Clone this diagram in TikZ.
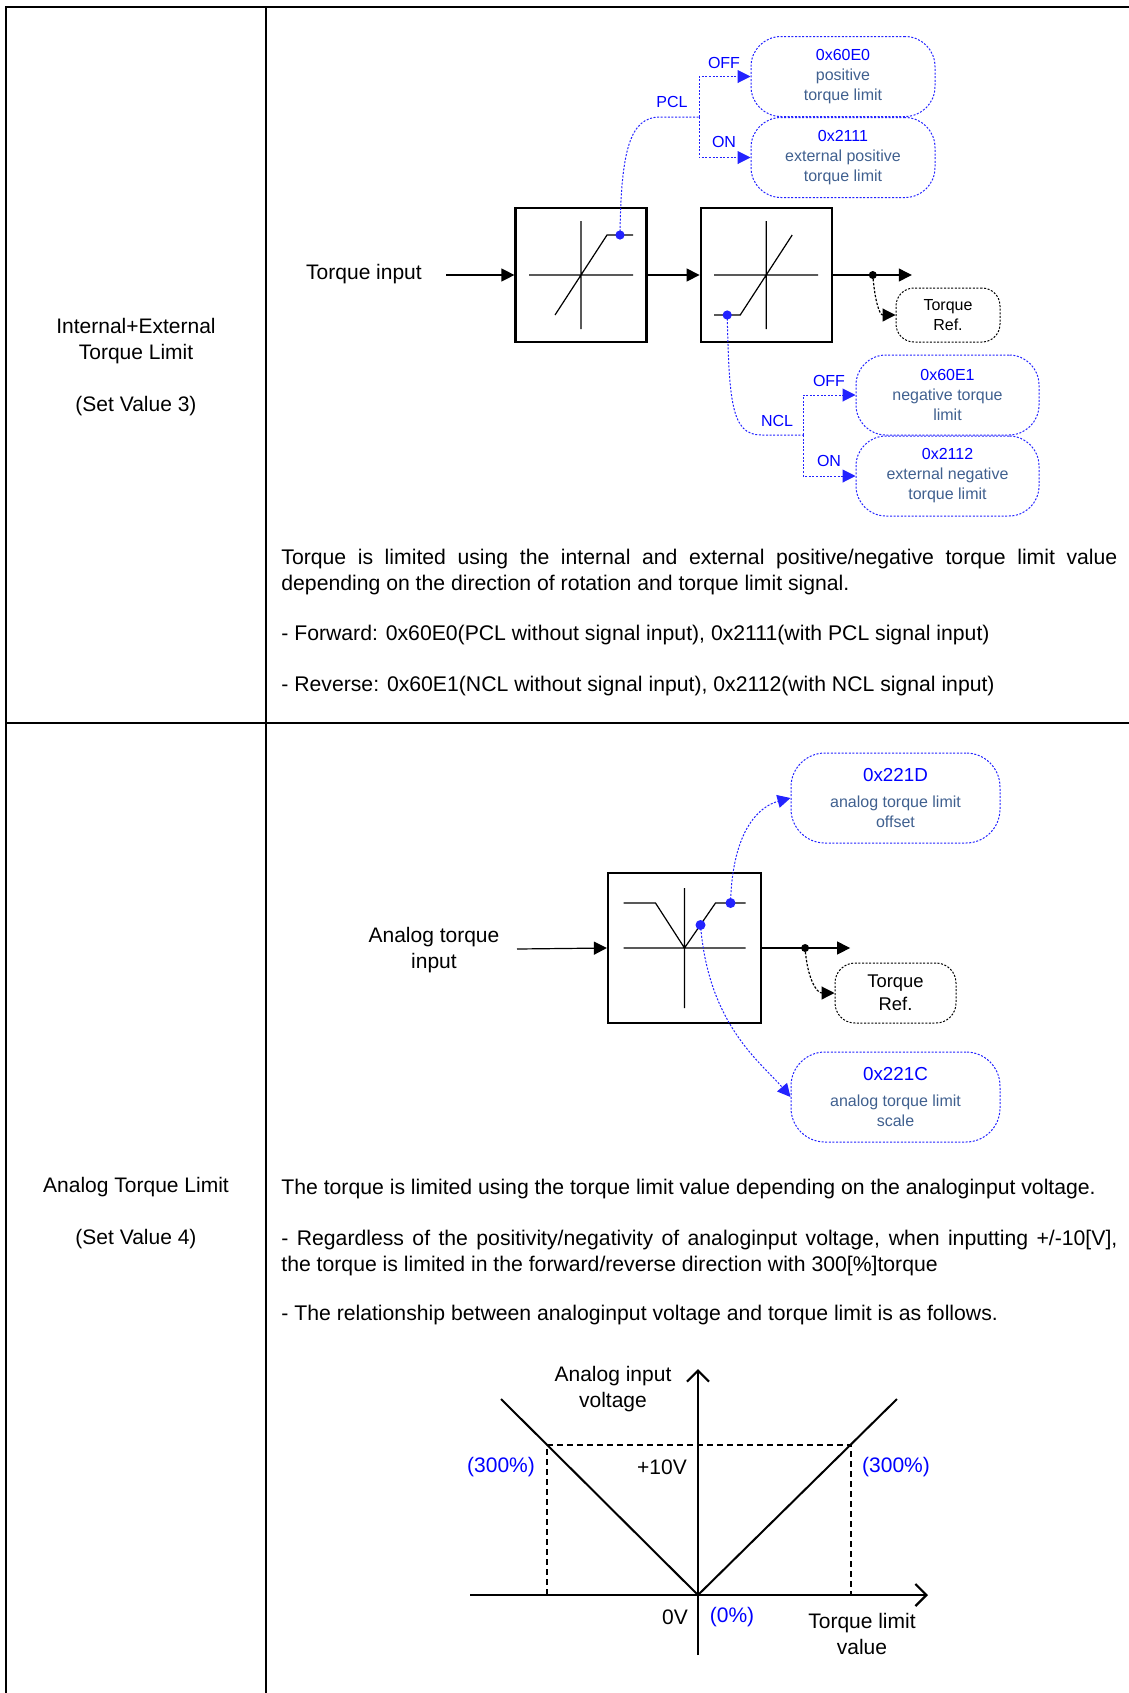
\documentclass[tikz,border=0pt]{standalone}
\usepackage{fontspec}
\setmainfont{Liberation Sans}
\usetikzlibrary{arrows.meta,positioning,calc}
\definecolor{cHex}{HTML}{0000FF}
\definecolor{cDesc}{HTML}{40608F}
\definecolor{cSig}{HTML}{2323FF}
\newcommand{\hexc}[1]{{\color{cHex}#1}}
\newcommand{\hexbig}[1]{{\color{cHex}\fontsize{9.4}{11}\selectfont #1}}

\begin{document}
\begin{tikzpicture}[
  x=0.5pt, y=-0.5pt,
  >={Triangle[length=6.5pt,width=6.5pt]},
  font=\fontsize{10.5}{13}\selectfont,
  tabline/.style={line width=1.2pt},
  bodytext/.style={inner sep=0pt, anchor=west, font=\fontsize{10.6}{13}\selectfont},
  limbox/.style={
    draw, line width=1.1pt, inner sep=0pt,
    minimum width=65.5pt, minimum height=67pt,
  },
  curveline/.style={line width=0.6pt},
  conn/.style={line width=0.6pt},
  regbox/.style={
    draw=cSig, line width=0.5pt, dash pattern=on 1pt off 0.8pt,
    rounded corners=15pt, align=center, text=cDesc, inner sep=0pt,
    font=\fontsize{8}{10}\selectfont, minimum width=92pt, minimum height=40pt,
  },
  refbox/.style={
    draw, line width=0.5pt, dash pattern=on 1pt off 0.8pt,
    rounded corners=9pt, align=center, inner sep=0pt,
    font=\fontsize{8}{10}\selectfont,
  },
  sigline/.style={cSig, line width=0.5pt, dash pattern=on 1pt off 0.8pt},
  siglabel/.style={text=cHex, inner sep=0pt, font=\fontsize{8}{10}\selectfont},
  gaxis/.style={line width=1.1pt},
  gline/.style={line width=1pt},
  gdash/.style={line width=0.6pt, dash pattern=on 3pt off 2pt},
]

% Page frame: table runs off the right and bottom edges.
\useasboundingbox (0,0) rectangle (1129,1693);
\draw[tabline] (6,1693) -- (6,7) -- (1129,7);
\draw[tabline] (266,7) -- (266,1693);
\draw[tabline] (6,723) -- (1129,723);

% --- left column ---
\node[align=center] (mode3) at (136,367.5)
  {Internal+External\\Torque Limit\\[13pt](Set Value 3)};
\node[align=center] (mode4) at (136,1213.5)
  {Analog Torque Limit\\[13pt](Set Value 4)};

% --- set value 3: two limiters in a row ---
\node (tqin) at (364,274) {Torque input};
\coordinate (tqinend) at (446,275);
\node[limbox] (lim1) at (581,275) {};
\node[limbox, right=26pt of lim1] (lim2) {};

\draw[curveline, shift={(lim1.center)}] (-52,0) -- (52,0) (0,-54) -- (0,54)
  (-26,40) -- (26,-40) -- (52,-40);
\draw[curveline, shift={(lim2.center)}] (-52,0) -- (52,0) (0,-54) -- (0,54)
  (-52,40) -- (-26,40) -- (26,-40);
\coordinate (pdot) at ($(lim1.center)+(39,-40)$);
\coordinate (ndot) at ($(lim2.center)+(-39,40)$);

\coordinate (tjn) at ($(lim2.east)+(40,0)$);
\coordinate (tout) at ($(lim2.east)+(79,0)$);
\node[refbox, minimum width=52pt, minimum height=27pt] (tref) at (948,315)
  {Torque\\Ref.};

\draw[conn, ->] (tqinend) -- (lim1.west);
\draw[conn, ->] (lim1.east) -- (lim2.west);
\draw[conn, ->] (lim2.east) -- (tout);
\fill (tjn) circle (2pt);
\draw[conn, dash pattern=on 1.2pt off 0.8pt, ->]
  (tjn) .. controls +(2,26) and +(-16,0) .. (tref.west);

% positive side (PCL)
\node[regbox] (pos) at (843,76.5) {\hexc{0x60E0}\\positive\\torque limit};
\node[regbox, below=0pt of pos] (extpos)
  {\hexc{0x2111}\\external positive\\torque limit};
\coordinate (pclk) at (660,117);
\coordinate (pclb) at (699,117);
\draw[sigline] (pdot) .. controls +(1,-85) and +(-30,0) .. (pclk) -- (pclb);
\draw[sigline, ->] (pclb) |- (pos.west);
\draw[sigline, ->] (pclb) |- (extpos.west);
\fill[cSig] (pdot) circle (2.3pt);
\node[siglabel] (pcl) at (672,102) {PCL};
\node[siglabel] (pcloff) at (724,63) {OFF};
\node[siglabel] (pclon) at (724,142) {ON};

% negative side (NCL)
\node[regbox, minimum width=91.5pt] (neg) at (947.5,395)
  {\hexc{0x60E1}\\negative torque\\limit};
\node[regbox, minimum width=91.5pt, below=0pt of neg] (extneg)
  {\hexc{0x2112}\\external negative\\torque limit};
\coordinate (nclk) at (761,435);
\coordinate (nclb) at (803,435);
\draw[sigline] (ndot) .. controls +(2,85) and +(-30,0) .. (nclk) -- (nclb);
\draw[sigline, ->] (nclb) |- (neg.west);
\draw[sigline, ->] (nclb) |- (extneg.west);
\fill[cSig] (ndot) circle (2.3pt);
\node[siglabel] (ncl) at (777,421) {NCL};
\node[siglabel] (ncloff) at (829,381) {OFF};
\node[siglabel] (nclon) at (829,461) {ON};

\node[bodytext, text width=418pt, align=justify] (desc3) at (281,572)
  {Torque is limited using the internal and external positive/negative torque limit value\linebreak depending on the direction of rotation and torque limit signal.};
\node[bodytext] (fwd3) at (281,635)
  {- Forward: 0x60E0(PCL without signal input), 0x2111(with PCL signal input)};
\node[bodytext] (rev3) at (281,686)
  {- Reverse: 0x60E1(NCL without signal input), 0x2112(with NCL signal input)};

% --- set value 4: analog limiter ---
\node[align=center] (atin) at (434,950) {Analog torque\\input};
\coordinate (atinend) at (517,949);
\node[limbox, minimum width=76.5pt, minimum height=75pt] (alim) at (684.5,948) {};
\draw[curveline, shift={(alim.center)}] (-61,0) -- (61,0) (0,-60) -- (0,60)
  (-61,-45) -- (-29,-45) -- (0,0) -- (31,-45) -- (61,-45);
\coordinate (sdot) at ($(alim.center)+(16,-23)$);
\coordinate (odot) at ($(alim.center)+(46,-45)$);
\coordinate (ajn) at ($(alim.east)+(43,0)$);
\coordinate (aout) at ($(alim.east)+(88,0)$);

\node[refbox, minimum width=60.5pt, minimum height=30pt, rounded corners=10pt,
  font=\fontsize{9.2}{11.5}\selectfont] (aref) at (895.5,993) {Torque\\Ref.};
\node[regbox, minimum width=104.5pt, minimum height=45pt, rounded corners=17pt]
  (aoff) at (895.5,798) {\hexbig{0x221D}\\[3pt]analog torque limit\\offset};
\node[regbox, minimum width=104.5pt, minimum height=45pt, rounded corners=17pt]
  (ascl) at (895.5,1097) {\hexbig{0x221C}\\[3pt]analog torque limit\\scale};

\draw[conn, ->] (atinend) -- (alim.west);
\draw[conn, ->] (alim.east) -- (aout);
\fill (ajn) circle (2pt);
\draw[conn, dash pattern=on 1.2pt off 0.8pt, ->]
  (ajn) .. controls +(2,30) and +(-18,0) .. (aref.west);
\draw[sigline, ->] (odot) .. controls +(2,-75) and +(-30,8) .. (aoff.west);
\draw[sigline, ->] (sdot) .. controls +(8,100) and +(-30,-35) .. (ascl.west);
\fill[cSig] (sdot) circle (2.5pt);
\fill[cSig] (odot) circle (2.5pt);

\node[bodytext] (desc4) at (281,1189)
  {The torque is limited using the torque limit value depending on the analoginput voltage.};
\node[bodytext, text width=418pt, align=justify] (sat4) at (281,1253)
  {- Regardless of the positivity/negativity of analoginput voltage, when inputting +/-10[V],\linebreak the torque is limited in the forward/reverse direction with 300[\%]torque};
\node[bodytext] (rel4) at (281,1315)
  {- The relationship between analoginput voltage and torque limit is as follows.};

% voltage vs torque limit graph
\coordinate (gorg) at (698,1595);
\coordinate (gxl) at (470,1595);
\coordinate (gxr) at (928,1595);
\coordinate (gyb) at (698,1655);
\coordinate (gyt) at (698,1369);
\coordinate (gvl) at (501,1399);
\coordinate (gvr) at (897,1399);
\coordinate (gdl) at (547,1445);
\coordinate (gdr) at (851,1445);
\draw[gaxis, -{Straight Barb[length=5.5pt,width=11pt]}] (gxl) -- (gxr);
\draw[gaxis, -{Straight Barb[length=5.5pt,width=11pt]}] (gyb) -- (gyt);
\draw[gline] (gvl) -- (gorg) -- (gvr);
\draw[gdash] (gdl |- gorg) -- (gdl) -- (gdr) -- (gdr |- gorg);

\node[align=center] (gylab) at (613,1389) {Analog input\\voltage};
\node[text=cHex] (gpl) at (501,1467) {(300\%)};
\node[text=cHex] (gpr) at (896,1467) {(300\%)};
\node (gten) at (662,1467) {+10V};
\node (gzero) at (675,1617) {0V};
\node[text=cHex] (gzp) at (732,1617) {(0\%)};
\node[align=center] (gxlab) at (862,1634) {Torque limit\\value};

\end{tikzpicture}
\end{document}
